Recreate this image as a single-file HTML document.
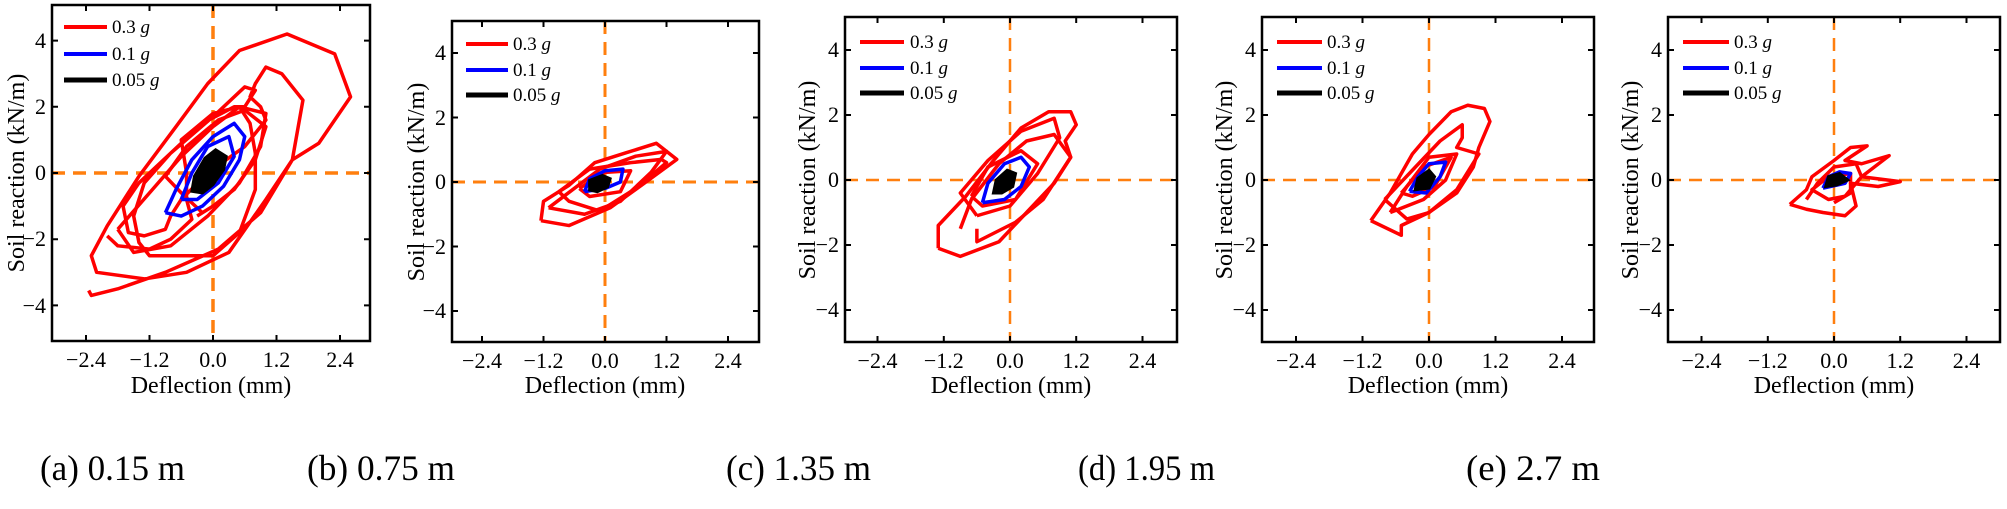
<!DOCTYPE html>
<html><head><meta charset="utf-8"><style>
html,body{margin:0;padding:0;background:#fff}
svg{display:block;font-family:"Liberation Serif","Times New Roman",serif}
svg text,svg tspan{font-family:"Liberation Serif","Times New Roman",serif;fill:#000}
.tl{font-size:22px}
.lg{font-size:19px}
.al{font-size:24px}
.cap{font-size:36px}
.r polyline,.r polygon{fill:none;stroke:#f00;stroke-width:3.5;stroke-linejoin:round;vector-effect:non-scaling-stroke}
.b polyline{fill:none;stroke:#00f;stroke-width:3.5;stroke-linejoin:round;vector-effect:non-scaling-stroke}
.k polygon{fill:#000;stroke:#000;stroke-width:3;vector-effect:non-scaling-stroke}
.o{stroke:#ff7f0e;stroke-width:2.5;stroke-dasharray:13 8}
.box{fill:none;stroke:#000;stroke-width:2.5}
</style></head><body>
<svg width="2007" height="509" viewBox="0 0 2007 509" xmlns="http://www.w3.org/2000/svg" font-family="Liberation Serif, serif">

<!-- ===== Panel a ===== -->
<g>
<line class="o" x1="213" y1="5" x2="213" y2="341" style="stroke-width:3.5"/>
<line class="o" x1="52" y1="173" x2="370" y2="173" style="stroke-width:3.5"/>
<g transform="translate(213 173) scale(52.9 -33.1)">
<g class="r"><polyline points="-2.35,-3.55 -2.3,-3.7 -1.8,-3.5 -0.9,-3.0 0.1,-2.3 0.9,-1.2 1.5,0.4 2.0,0.9 2.6,2.3 2.3,3.6 1.4,4.2 0.5,3.7 -0.1,2.7 -0.7,1.4 -1.4,-0.1 -2.0,-1.6 -2.3,-2.5 -2.2,-3.0 -1.3,-3.2 -0.5,-3.0 0.3,-2.4 1.0,-0.8 1.5,0.4 1.7,2.2 1.3,3.0 1.0,3.2 0.8,2.7 0.7,2.3 0.9,2.0 1.0,1.6 0.6,0.8 -0.1,0.0 -0.6,-0.8 -0.8,-1.3 -0.9,-1.7 -1.3,-1.9 -1.6,-1.8 -1.7,-1.0 -1.4,-0.3 -0.8,0.6 0.0,1.7 0.6,2.6 0.8,2.5 0.6,2.0 0.4,2.0 -0.2,1.5 -0.8,0.6 -1.3,-0.3 -1.5,-1.3 -1.4,-2.1 -1.2,-2.5 0.0,-2.5 0.5,-1.8 0.8,-0.5 0.8,0.6 0.7,1.5 0.5,2.0 0.0,1.8 -0.6,1.0 -0.5,0.0 -0.5,-0.8 -0.4,-1.4 -0.8,-2.0 -1.2,-2.3 -1.8,-2.2 -2.0,-1.9"/>
<polyline points="-0.2,-1.2 -0.6,-0.6 -0.9,-0.1 -0.5,0.8 0.1,1.6 0.6,1.9 1.0,1.4 0.8,0.4 0.4,-0.5 0.0,-1.0 -0.3,-1.3"/>
<polyline points="-1.8,-1.7 -1.2,-0.6 -0.6,0.5 0.0,1.4 0.5,2.0 1.0,1.8 0.9,0.8 0.5,-0.3 -0.1,-1.3 -0.8,-2.2 -1.5,-2.4 -1.8,-1.7"/></g>
<g class="b"><polyline points="-0.9,-1.2 -0.7,-0.5 -0.4,0.4 0.0,1.1 0.4,1.5 0.6,1.1 0.5,0.4 0.2,-0.4 -0.2,-1.0 -0.6,-1.3 -0.9,-1.2"/>
<polyline points="-0.6,-0.8 -0.4,0 -0.1,0.8 0.3,1.1 0.4,0.5 0.1,-0.3 -0.3,-0.8 -0.6,-0.8"/></g>
<g class="k"><polygon points="-0.4,-0.55 -0.35,-0.1 -0.15,0.45 0.05,0.7 0.25,0.5 0.2,0.1 0.0,-0.35 -0.2,-0.6"/></g>
</g>
<rect class="box" x="52" y="5" width="318" height="336"/>
<g stroke="#000" stroke-width="2">
<path d="M86 341v-6M149.5 341v-6M213 341v-6M276.5 341v-6M340 341v-6M86 5v6M149.5 5v6M213 5v6M276.5 5v6M340 5v6M52 40.6h6M52 106.8h6M52 173h6M52 239.2h6M52 305.4h6M370 40.6h-6M370 106.8h-6M370 173h-6M370 239.2h-6M370 305.4h-6"/>
</g>
<g class="tl" text-anchor="middle"><text x="86" y="367">−2.4</text><text x="149.5" y="367">−1.2</text><text x="213" y="367">0.0</text><text x="276.5" y="367">1.2</text><text x="340" y="367">2.4</text></g>
<g class="tl" text-anchor="end"><text x="46" y="48">4</text><text x="46" y="114">2</text><text x="46" y="180">0</text><text x="46" y="246">−2</text><text x="46" y="313">−4</text></g>
<text class="al" x="211" y="393" text-anchor="middle">Deflection (mm)</text>
<text class="al" transform="translate(24 173) rotate(-90)" text-anchor="middle">Soil reaction (kN/m)</text>
<line x1="64" y1="27" x2="107" y2="27" stroke="#f00" stroke-width="4"/>
<line x1="64" y1="54" x2="107" y2="54" stroke="#00f" stroke-width="4"/>
<line x1="64" y1="80" x2="107" y2="80" stroke="#000" stroke-width="5"/>
<g class="lg"><text x="112" y="33">0.3 <tspan font-style="italic">g</tspan></text><text x="112" y="60">0.1 <tspan font-style="italic">g</tspan></text><text x="112" y="86">0.05 <tspan font-style="italic">g</tspan></text></g>
</g>

<!-- ===== Panel b ===== -->
<g>
<line class="o" x1="605" y1="21" x2="605" y2="342" style="stroke-width:3"/>
<line class="o" x1="452" y1="182" x2="759" y2="182" style="stroke-width:3"/>
<g transform="translate(605 182) scale(51.25 -32.25)">
<g class="r"><polyline points="-1.25,-1.2 -1.2,-0.6 -0.7,-0.1 -0.2,0.6 0.4,0.9 1.0,1.2 1.4,0.7 0.8,0.0 0.1,-0.8 -0.7,-1.35 -1.25,-1.2"/>
<polyline points="-0.9,-0.3 -0.3,0.4 0.5,0.6 1.1,0.7 1.2,0.6 0.6,-0.2 -0.1,-0.9 -0.7,-0.6 -0.9,-0.3"/>
<polyline points="-0.5,-0.2 0,0.3 0.5,0.35 0.3,-0.3 -0.3,-0.45 -0.5,-0.2"/>
<polyline points="-1.1,-0.8 -0.6,-0.2 -0.1,0.4 0.6,0.8 1.2,0.95 0.9,0.3 0.3,-0.6 -0.4,-1.0 -1.1,-0.8"/></g>
<g class="b"><polyline points="-0.4,-0.3 -0.3,0.1 0.0,0.35 0.35,0.4 0.3,0.0 0.0,-0.2 -0.4,-0.3"/></g>
<g class="k"><polygon points="-0.3,-0.25 -0.3,0.05 -0.05,0.2 0.1,0.1 0.05,-0.15 -0.15,-0.3"/></g>
</g>
<rect class="box" x="452" y="21" width="307" height="321"/>
<g stroke="#000" stroke-width="2">
<path d="M482 342v-6M543.5 342v-6M605 342v-6M666.5 342v-6M728 342v-6M482 21v6M543.5 21v6M605 21v6M666.5 21v6M728 21v6M452 53h6M452 117.5h6M452 182h6M452 246.5h6M452 311h6M759 53h-6M759 117.5h-6M759 182h-6M759 246.5h-6M759 311h-6"/>
</g>
<g class="tl" text-anchor="middle"><text x="482" y="368">−2.4</text><text x="543.5" y="368">−1.2</text><text x="605" y="368">0.0</text><text x="666.5" y="368">1.2</text><text x="728" y="368">2.4</text></g>
<g class="tl" text-anchor="end"><text x="446" y="60">4</text><text x="446" y="125">2</text><text x="446" y="189">0</text><text x="446" y="254">−2</text><text x="446" y="318">−4</text></g>
<text class="al" x="605" y="393" text-anchor="middle">Deflection (mm)</text>
<text class="al" transform="translate(424 182) rotate(-90)" text-anchor="middle">Soil reaction (kN/m)</text>
<line x1="466" y1="44" x2="508" y2="44" stroke="#f00" stroke-width="4"/>
<line x1="466" y1="70" x2="508" y2="70" stroke="#00f" stroke-width="4"/>
<line x1="466" y1="95" x2="508" y2="95" stroke="#000" stroke-width="5"/>
<g class="lg"><text x="513" y="50">0.3 <tspan font-style="italic">g</tspan></text><text x="513" y="76">0.1 <tspan font-style="italic">g</tspan></text><text x="513" y="101">0.05 <tspan font-style="italic">g</tspan></text></g>
</g>

<!-- ===== Panel c ===== -->
<g>
<line class="o" x1="1010" y1="17" x2="1010" y2="342"/>
<line class="o" x1="845" y1="180" x2="1177" y2="180"/>
<g transform="translate(1010 180) scale(55.2 -32.5)">
<g class="r"><polyline points="-1.3,-2.1 -1.3,-1.4 -0.8,-0.5 -0.3,0.6 0.2,1.6 0.7,2.1 1.1,2.1 1.2,1.7 1.0,1.2 1.1,0.7 0.8,-0.1 0.3,-1.0 -0.2,-1.9 -0.9,-2.35 -1.3,-2.1"/>
<polyline points="-0.9,-1.5 -0.7,-0.6 -0.2,0.5 0.3,1.2 0.8,1.4 1.1,0.7 0.6,-0.6 0.1,-1.3 -0.6,-1.9 -0.6,-1.5"/>
<polyline points="-0.7,-0.5 -0.4,0.4 0.2,0.9 0.5,0.5 0.1,-0.6 -0.5,-0.8 -0.7,-0.5"/>
<polyline points="-0.6,-1.1 -0.9,-0.4 -0.4,0.6 0.2,1.5 0.8,1.9 0.9,1.3 0.5,0.2 0.0,-0.8 -0.6,-1.1"/></g>
<g class="b"><polyline points="-0.5,-0.7 -0.4,-0.1 -0.1,0.5 0.2,0.7 0.35,0.4 0.2,-0.2 -0.1,-0.6 -0.5,-0.7"/></g>
<g class="k"><polygon points="-0.3,-0.4 -0.25,0.0 -0.05,0.3 0.1,0.2 0.05,-0.2 -0.15,-0.4"/></g>
</g>
<rect class="box" x="845" y="17" width="332" height="325"/>
<g stroke="#000" stroke-width="2">
<path d="M877.5 342v-6M943.8 342v-6M1010 342v-6M1076.2 342v-6M1142.5 342v-6M877.5 17v6M943.8 17v6M1010 17v6M1076.2 17v6M1142.5 17v6M845 50h6M845 115h6M845 180h6M845 245h6M845 310h6M1177 50h-6M1177 115h-6M1177 180h-6M1177 245h-6M1177 310h-6"/>
</g>
<g class="tl" text-anchor="middle"><text x="877.5" y="368">−2.4</text><text x="943.8" y="368">−1.2</text><text x="1010" y="368">0.0</text><text x="1076.2" y="368">1.2</text><text x="1142.5" y="368">2.4</text></g>
<g class="tl" text-anchor="end"><text x="839" y="57">4</text><text x="839" y="122">2</text><text x="839" y="187">0</text><text x="839" y="252">−2</text><text x="839" y="317">−4</text></g>
<text class="al" x="1011" y="393" text-anchor="middle">Deflection (mm)</text>
<text class="al" transform="translate(815 180) rotate(-90)" text-anchor="middle">Soil reaction (kN/m)</text>
<line x1="860" y1="42" x2="904" y2="42" stroke="#f00" stroke-width="4"/>
<line x1="860" y1="68" x2="904" y2="68" stroke="#00f" stroke-width="4"/>
<line x1="860" y1="93" x2="904" y2="93" stroke="#000" stroke-width="5"/>
<g class="lg"><text x="910" y="48">0.3 <tspan font-style="italic">g</tspan></text><text x="910" y="74">0.1 <tspan font-style="italic">g</tspan></text><text x="910" y="99">0.05 <tspan font-style="italic">g</tspan></text></g>
</g>

<!-- ===== Panel d ===== -->
<g>
<line class="o" x1="1429" y1="17" x2="1429" y2="342"/>
<line class="o" x1="1262" y1="180" x2="1594" y2="180"/>
<g transform="translate(1429 180) scale(55.4 -32.5)">
<g class="r"><polyline points="-1.05,-1.25 -0.7,-0.4 -0.3,0.8 0.0,1.4 0.4,2.1 0.7,2.3 1.0,2.2 1.1,1.8 0.9,1.0 0.8,0.4 0.5,-0.4 0.0,-1.0 -0.5,-1.4 -0.5,-1.7 -1.05,-1.25"/>
<polyline points="-0.8,-0.6 -0.3,0.3 0.2,1.2 0.6,1.7 0.6,1.3 0.5,1.0 0.9,0.8 0.5,-0.3 0.0,-1.0 -0.4,-1.2 -0.8,-0.6"/>
<polyline points="-0.5,-0.4 -0.1,0.4 0.4,0.7 0.1,-0.2 -0.3,-0.5 -0.5,-0.4"/>
<polyline points="-0.7,-1.0 -0.4,-0.2 0.0,0.7 0.5,0.8 0.3,0.0 -0.1,-0.6 -0.7,-1.0"/></g>
<g class="b"><polyline points="-0.35,-0.35 -0.2,0.1 0.0,0.5 0.3,0.55 0.2,0.1 -0.05,-0.4 -0.35,-0.35"/></g>
<g class="k"><polygon points="-0.25,-0.3 -0.2,0.05 0.0,0.3 0.1,0.1 0.0,-0.25"/></g>
</g>
<rect class="box" x="1262" y="17" width="332" height="325"/>
<g stroke="#000" stroke-width="2">
<path d="M1296 342v-6M1362.5 342v-6M1429 342v-6M1495.5 342v-6M1562 342v-6M1296 17v6M1362.5 17v6M1429 17v6M1495.5 17v6M1562 17v6M1262 50h6M1262 115h6M1262 180h6M1262 245h6M1262 310h6M1594 50h-6M1594 115h-6M1594 180h-6M1594 245h-6M1594 310h-6"/>
</g>
<g class="tl" text-anchor="middle"><text x="1296" y="368">−2.4</text><text x="1362.5" y="368">−1.2</text><text x="1429" y="368">0.0</text><text x="1495.5" y="368">1.2</text><text x="1562" y="368">2.4</text></g>
<g class="tl" text-anchor="end"><text x="1256" y="57">4</text><text x="1256" y="122">2</text><text x="1256" y="187">0</text><text x="1256" y="252">−2</text><text x="1256" y="317">−4</text></g>
<text class="al" x="1428" y="393" text-anchor="middle">Deflection (mm)</text>
<text class="al" transform="translate(1232 180) rotate(-90)" text-anchor="middle">Soil reaction (kN/m)</text>
<line x1="1277" y1="42" x2="1322" y2="42" stroke="#f00" stroke-width="4"/>
<line x1="1277" y1="68" x2="1322" y2="68" stroke="#00f" stroke-width="4"/>
<line x1="1277" y1="93" x2="1322" y2="93" stroke="#000" stroke-width="5"/>
<g class="lg"><text x="1327" y="48">0.3 <tspan font-style="italic">g</tspan></text><text x="1327" y="74">0.1 <tspan font-style="italic">g</tspan></text><text x="1327" y="99">0.05 <tspan font-style="italic">g</tspan></text></g>
</g>

<!-- ===== Panel e ===== -->
<g>
<line class="o" x1="1834" y1="17" x2="1834" y2="342"/>
<line class="o" x1="1668" y1="180" x2="2000" y2="180"/>
<g transform="translate(1834 180) scale(55.2 -32.5)">
<g class="r"><polyline points="-0.8,-0.75 -0.5,-0.3 -0.4,0.1 0.0,0.6 0.3,1.0 0.6,1.05 0.2,0.6 0.5,0.5 1.0,0.75 0.5,0.1 1.2,-0.05 0.8,-0.2 0.3,-0.1 0.4,-0.8 0.2,-1.1 -0.2,-1.0 -0.5,-0.9 -0.8,-0.75"/>
<polyline points="-0.5,-0.6 -0.3,-0.1 0.0,0.4 0.4,0.5 0.5,0.1 0.2,-0.5 -0.1,-0.6 -0.4,-0.3 -0.1,0.1 0.3,0.2 0.3,-0.4 0.0,-0.7"/></g>
<g class="b"><polyline points="-0.2,-0.25 -0.1,0.1 0.1,0.25 0.3,0.2 0.2,-0.1 -0.2,-0.25"/></g>
<g class="k"><polygon points="-0.15,-0.2 -0.1,0.1 0.1,0.2 0.25,0.0 0.05,-0.15"/></g>
</g>
<rect class="box" x="1668" y="17" width="332" height="325"/>
<g stroke="#000" stroke-width="2">
<path d="M1701.5 342v-6M1767.8 342v-6M1834 342v-6M1900.2 342v-6M1966.5 342v-6M1701.5 17v6M1767.8 17v6M1834 17v6M1900.2 17v6M1966.5 17v6M1668 50h6M1668 115h6M1668 180h6M1668 245h6M1668 310h6M2000 50h-6M2000 115h-6M2000 180h-6M2000 245h-6M2000 310h-6"/>
</g>
<g class="tl" text-anchor="middle"><text x="1701.5" y="368">−2.4</text><text x="1767.8" y="368">−1.2</text><text x="1834" y="368">0.0</text><text x="1900.2" y="368">1.2</text><text x="1966.5" y="368">2.4</text></g>
<g class="tl" text-anchor="end"><text x="1662" y="57">4</text><text x="1662" y="122">2</text><text x="1662" y="187">0</text><text x="1662" y="252">−2</text><text x="1662" y="317">−4</text></g>
<text class="al" x="1834" y="393" text-anchor="middle">Deflection (mm)</text>
<text class="al" transform="translate(1638 180) rotate(-90)" text-anchor="middle">Soil reaction (kN/m)</text>
<line x1="1683" y1="42" x2="1729" y2="42" stroke="#f00" stroke-width="4"/>
<line x1="1683" y1="68" x2="1729" y2="68" stroke="#00f" stroke-width="4"/>
<line x1="1683" y1="93" x2="1729" y2="93" stroke="#000" stroke-width="5"/>
<g class="lg"><text x="1734" y="48">0.3 <tspan font-style="italic">g</tspan></text><text x="1734" y="74">0.1 <tspan font-style="italic">g</tspan></text><text x="1734" y="99">0.05 <tspan font-style="italic">g</tspan></text></g>
</g>

<!-- Captions -->
<g class="cap">
<text x="40" y="480" textLength="145" lengthAdjust="spacingAndGlyphs">(a) 0.15 m</text>
<text x="307" y="480" textLength="148" lengthAdjust="spacingAndGlyphs">(b) 0.75 m</text>
<text x="726" y="480" textLength="145" lengthAdjust="spacingAndGlyphs">(c) 1.35 m</text>
<text x="1078" y="480" textLength="137" lengthAdjust="spacingAndGlyphs">(d) 1.95 m</text>
<text x="1466" y="480" textLength="134" lengthAdjust="spacingAndGlyphs">(e) 2.7 m</text>
</g>
</svg>
</body></html>
